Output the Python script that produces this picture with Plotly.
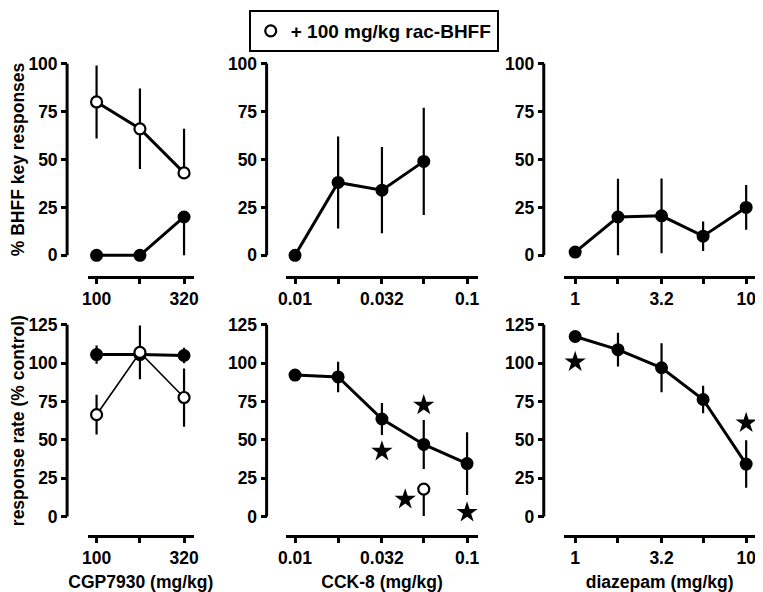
import plotly.graph_objects as go

# the page body has an 8px margin, so the figure is shrunk and
# all pixel positions below are page positions shifted by OFF
OFF = 8
W, H = 763 - OFF, 592 - OFF

# doses (log x axes)
cgp_dose = [100, 178, 320]
cck_dose = [0.01, 0.0178, 0.032, 0.056, 0.1]
dzp_dose = [1, 1.78, 3.2, 5.6, 10]

# % BHFF key responses
cgp_key = [0, 0, 20]
cgp_key_plus = [0, 0, 0]
cgp_key_minus = [0, 0, 20]
cgp_key_bhff = [80, 66, 43]
cgp_key_bhff_plus = [19, 21, 23]
cgp_key_bhff_minus = [19, 21, 0]
cck_key_dose = [0.01, 0.0178, 0.032, 0.056]
cck_key = [0, 38, 34, 49]
cck_key_err = [0, 24, 22.5, 28]
dzp_key = [1.7, 20, 20.6, 10, 25]
dzp_key_err = [0, 20, 19.5, 7.7, 11.7]

# response rate (% control)
cgp_rate = [105.6, 105.6, 105]
cgp_rate_err = [6, 0, 5]
cgp_rate_bhff = [66.4, 107, 77.6]
cgp_rate_bhff_err = [13, 17.5, 19]
cck_rate = [92.2, 91, 63.6, 47, 34.5]
cck_rate_err = [0, 10, 10.5, 16, 20.5]
cck_rate_bhff_dose = [0.056]
cck_rate_bhff = [17.9]
cck_rate_bhff_minus = [17.5]
dzp_rate = [117.4, 108.8, 97, 76.3, 34.2]
dzp_rate_err = [0, 11, 16, 9, 15.5]

# significance stars
cck_star_dose = [0.032, 0.056, 0.0437, 0.1]
cck_star_y = [42.5, 72.6, 11.2, 2.6]
dzp_star_dose = [1, 10]
dzp_star_y = [100.8, 61]

FONT = dict(family="Liberation Sans, Arial", size=17.5, color="black", weight="bold")
LEG_FONT = dict(FONT, size=19)


def px_x(p):
    return (p - OFF) / W


def px_y(p):
    return 1 - (p - OFF) / H


fig = go.Figure()


def add_series(i, x, y, plus, minus, filled=True, lw=3, legend=False, name=None):
    xa, ya = "x%d" % i, "y%d" % i
    err = dict(type="data", array=plus, arrayminus=minus, symmetric=False,
               thickness=2.2, width=0, color="black")
    fig.add_trace(go.Scatter(x=x, y=y, xaxis=xa, yaxis=ya, mode="lines",
                             line=dict(color="black", width=lw), error_y=err,
                             showlegend=False, hoverinfo="skip"))
    if filled:
        mk = dict(size=11.5, color="black", line=dict(color="black", width=1.5))
    else:
        mk = dict(size=11, color="white", line=dict(color="black", width=2.2))
    fig.add_trace(go.Scatter(x=x, y=y, xaxis=xa, yaxis=ya, mode="markers",
                             cliponaxis=False, marker=mk,
                             showlegend=legend, name=name))


def add_stars(i, x, y):
    fig.add_trace(go.Scatter(x=x, y=y, xaxis="x%d" % i, yaxis="y%d" % i,
                             mode="markers", cliponaxis=False,
                             marker=dict(symbol="star", size=16, color="black",
                                         line=dict(width=0)),
                             showlegend=False))


# top row
add_series(1, cgp_dose, cgp_key_bhff, cgp_key_bhff_plus, cgp_key_bhff_minus,
           filled=False, legend=True, name="+ 100 mg/kg rac-BHFF")
add_series(1, cgp_dose, cgp_key, cgp_key_plus, cgp_key_minus)
add_series(2, cck_key_dose, cck_key, cck_key_err, cck_key_err)
add_series(3, dzp_dose, dzp_key, dzp_key_err, dzp_key_err)

# bottom row
add_series(4, cgp_dose, cgp_rate, cgp_rate_err, cgp_rate_err)
add_series(4, cgp_dose, cgp_rate_bhff, cgp_rate_bhff_err, cgp_rate_bhff_err,
           filled=False, lw=1.6)
add_series(5, cck_dose, cck_rate, cck_rate_err, cck_rate_err)
add_series(5, cck_rate_bhff_dose, cck_rate_bhff, [0], cck_rate_bhff_minus, filled=False)
add_stars(5, cck_star_dose, cck_star_y)
add_series(6, dzp_dose, dzp_rate, dzp_rate_err, dzp_rate_err)
add_stars(6, dzp_star_dose, dzp_star_y)

# panel geometry (page pixels)
x_lines = [(81, 189), (283, 478), (566, 760)]
x_ranges = [(1.949, 2.562), (-2.051, -0.937), (-0.063, 1.052)]
x_ticks = [([100, 178, 320], ["100", "", "320"]),
           ([0.01, 0.0178, 0.032, 0.056, 0.1], ["0.01", "", "0.032", "", "0.1"]),
           ([1, 1.78, 3.2, 5.6, 10], ["1", "", "3.2", "", "10"])]
y_spine_px = [60, 263, 545]
x_titles = ["CGP7930 (mg/kg)", "CCK-8 (mg/kg)", "diazepam (mg/kg)"]
rows = [
    dict(top=62, zero=255, xline=277, ymax=100, pad=5, dtick=25,
         title="% BHFF key responses"),
    dict(top=325, zero=518, xline=538, ymax=125, pad=5, dtick=25,
         title="response rate (% control)"),
]

layout = {}
shapes = []
for r, row in enumerate(rows):
    ppu = (row["zero"] - row["top"]) / row["ymax"]
    lo_px = row["zero"] + row["pad"] * ppu
    hi_px = row["top"] - row["pad"] * ppu
    for c in range(3):
        i = r * 3 + c + 1
        xs = "" if i == 1 else str(i)
        tv, tt = x_ticks[c]
        layout["xaxis" + xs] = dict(
            type="log", range=list(x_ranges[c]),
            domain=[px_x(x_lines[c][0]), px_x(x_lines[c][1])],
            anchor="free", position=px_y(row["xline"]),
            showline=True, linewidth=3, linecolor="black",
            ticks="outside", ticklen=5, tickwidth=2.5, tickcolor="black",
            tickvals=tv, ticktext=tt, tickfont=FONT, showgrid=False,
            zeroline=False,
            title=dict(text=x_titles[c] if r == 1 else "", font=FONT, standoff=8),
        )
        layout["yaxis" + xs] = dict(
            range=[-row["pad"], row["ymax"] + row["pad"]],
            domain=[px_y(lo_px), px_y(hi_px)],
            anchor="free", position=px_x(y_spine_px[c]),
            showline=False, ticks="outside", ticklen=6, tickwidth=2.5,
            tickcolor="black",
            tickvals=list(range(0, row["ymax"] + 1, row["dtick"])),
            tickfont=FONT, showgrid=False, zeroline=False,
            title=dict(text=row["title"] if c == 0 else "", font=FONT, standoff=8),
        )
        shapes.append(dict(type="line", xref="paper", yref="y%d" % i,
                           x0=px_x(y_spine_px[c]), x1=px_x(y_spine_px[c]),
                           y0=0, y1=row["ymax"],
                           line=dict(color="black", width=3)))

fig.update_layout(
    **layout,
    shapes=shapes,
    width=W, height=H,
    margin=dict(l=0, r=0, t=0, b=0),
    plot_bgcolor="white", paper_bgcolor="white",
    font=FONT,
    showlegend=True,
    legend=dict(x=px_x(372), xanchor="center", y=1, yanchor="top",
                bordercolor="black", borderwidth=2, font=LEG_FONT,
                bgcolor="white", itemwidth=30, tracegroupgap=0),
)

fig.write_html("out.html")
